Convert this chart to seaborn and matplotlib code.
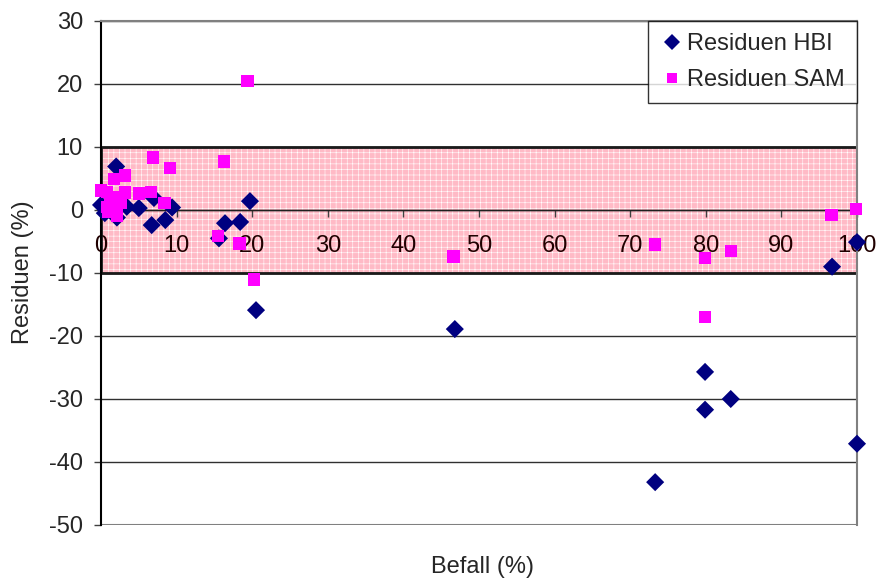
import matplotlib
matplotlib.use("Agg")
import matplotlib.pyplot as plt
from matplotlib.patches import Rectangle
import seaborn as sns
import pandas as pd

# ---- data ----
hbi_x = [0, 0.5, 2.0, 2.1, 3.4, 5.0, 7.0, 9.4, 6.7, 8.5, 19.7, 16.4, 18.4, 15.6,
         20.5, 46.8, 73.3, 79.9, 79.9, 83.3, 96.7, 100, 100]
hbi_y = [0.8, -0.5, 6.9, -1.2, 0.5, 0.3, 1.9, 0.4, -2.4, -1.6, 1.4, -2.1, -1.9, -4.5,
         -15.9, -18.9, -43.2, -25.7, -31.7, -30.0, -9.0, -37.1, -5.1]

sam_x = [19.4, 6.9, 16.3, 9.1, 3.2, 1.7, 0, 0.8, 2.1, 3.2, 5.0, 6.6, 8.4, 1.5,
         2.1, 2.1, 0.8, 1.2, 2.6, 1.0, 15.5, 18.3, 20.2, 46.6, 73.3, 79.9, 79.9,
         83.3, 96.6, 99.9]
sam_y = [20.5, 8.3, 7.7, 6.7, 5.5, 4.9, 3.1, 2.9, 2.1, 2.8, 2.6, 2.9, 1.1, 1.3,
         0.0, -1.0, 0.5, 1.9, 1.2, -0.3, -4.1, -5.3, -11.0, -7.4, -5.5, -7.6, -17.0,
         -6.5, -0.8, 0.2]

series_names = ["Residuen HBI", "Residuen SAM"]
y_ticks = [-50, -40, -30, -20, -10, 0, 10, 20, 30]
x_ticks = [0, 10, 20, 30, 40, 50, 60, 70, 80, 90, 100]
band_low, band_high = -10, 10

df = pd.DataFrame({
    "Befall": hbi_x + sam_x,
    "Residuen": hbi_y + sam_y,
    "Serie": [series_names[0]] * len(hbi_x) + [series_names[1]] * len(sam_x),
})

sns.set_style("white")
plt.rcParams["font.family"] = ["Liberation Sans", "DejaVu Sans"]
plt.rcParams["axes.unicode_minus"] = False
plt.rcParams["hatch.linewidth"] = 0.4
plt.rcParams["hatch.color"] = "white"

FS = 17

fig = plt.figure(figsize=(8.77, 5.78), dpi=100)
ax = fig.add_axes([0.1152, 0.0917, 0.862, 0.872])

# shaded band
ax.add_patch(Rectangle((0, band_low), 100, band_high - band_low,
                       facecolor="#FFBAC6", edgecolor="white", linewidth=0,
                       hatch="+++", zorder=0.5))
ax.add_patch(Rectangle((0, band_low), 100, band_high - band_low,
                       fill=False, edgecolor="#1a1a1a", linewidth=2, zorder=1.5))

sns.scatterplot(data=df, x="Befall", y="Residuen", hue="Serie", style="Serie",
                size="Serie",
                palette={series_names[0]: "#000080", series_names[1]: "#FF00FF"},
                markers={series_names[0]: "D", series_names[1]: "s"},
                sizes={series_names[0]: 85, series_names[1]: 80},
                linewidth=0, ax=ax, zorder=3, clip_on=False)

ax.set_xlim(0, 100)
ax.set_ylim(-50, 30)
ax.set_xticks(x_ticks)
ax.set_yticks(y_ticks)
ax.set_xlabel("")
ax.set_ylabel("")

ax.yaxis.grid(True, color="#303030", linewidth=1)
ax.set_axisbelow(True)
ax.axhline(-50, color="#808080", linewidth=1.5, zorder=1)

ax.spines["bottom"].set_position(("data", 0))
ax.spines["bottom"].set_color("#202020")
ax.spines["bottom"].set_linewidth(1)
ax.spines["left"].set_color("black")
ax.spines["left"].set_linewidth(1.5)
for sp in ("top", "right"):
    ax.spines[sp].set_color("#808080")
    ax.spines[sp].set_linewidth(1.5)

ax.tick_params(axis="x", direction="out", length=5, width=1, pad=13,
               labelsize=FS, color="#404040", bottom=True)
ax.tick_params(axis="y", direction="out", length=5, width=1, pad=8,
               labelsize=FS, color="#404040", left=True)
for lbl in ax.get_xticklabels():
    lbl.set_color("#200000")

leg = ax.legend(loc="upper right", bbox_to_anchor=(1.0, 1.0), borderaxespad=0,
                frameon=True, fancybox=False, edgecolor="black", fontsize=FS,
                markerscale=0.85, handletextpad=0.15, labelspacing=0.6,
                borderpad=0.5, handlelength=1.0, title=None)
leg.get_frame().set_linewidth(1)
leg.set_zorder(5)

fig.text(482 / 877, 1 - 567 / 578, "Befall (%)", ha="center", va="center",
         fontsize=FS)
fig.text(23 / 877, 1 - 272 / 578, "Residuen (%)", ha="center", va="center",
         rotation=90, fontsize=FS)

fig.savefig("out.png", dpi=100)
